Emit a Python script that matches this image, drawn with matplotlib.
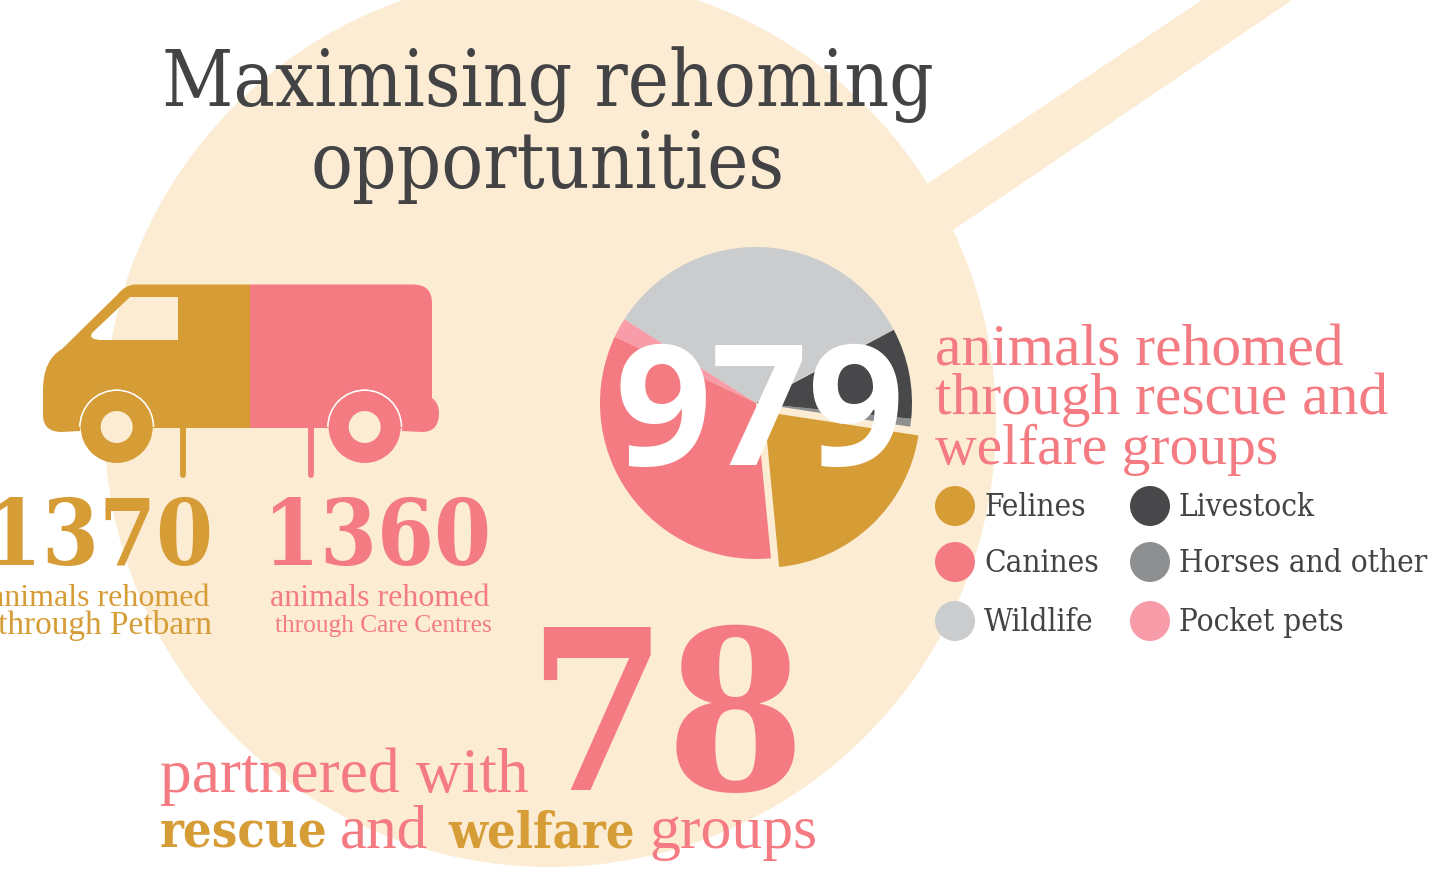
import matplotlib
matplotlib.use("Agg")
from matplotlib import pyplot as plt
from matplotlib.patches import Circle, Polygon, PathPatch, Wedge
from matplotlib.path import Path

# Pie data, counter clockwise from the felines slice
pie_labels = ["Felines", "Horses and other", "Livestock", "Wildlife", "Pocket pets", "Canines"]
pie_values = [206, 8, 92, 325, 20, 328]
total_rehomed = 979
petbarn_count = 1370
centres_count = 1360
partner_count = 78

# Legend reads column by column
legend_left = ["Felines", "Canines", "Wildlife"]
legend_right = ["Livestock", "Horses and other", "Pocket pets"]

CREAM = "#FBECD3"
ORANGE = "#D69C36"
PINK = "#F57B82"
DARK = "#434345"
colours = {"Felines": ORANGE, "Canines": PINK, "Wildlife": "#CBCCCE",
           "Livestock": "#48484A", "Horses and other": "#8E8F91", "Pocket pets": "#F79CA8"}

SLAB = ["DejaVu Serif"]
LIGHT = ["Liberation Serif"]

W, H = 1438, 892
fig = plt.figure(figsize=(W / 100, H / 100), dpi=100, facecolor="white")
ax = fig.add_axes([0, 0, 1, 1])
ax.set_xlim(0, W)
ax.set_ylim(H, 0)
ax.axis("off")

# Magnifying glass
ax.add_patch(Circle((550, 421), 446, fc=CREAM, ec="none"))
ax.add_patch(Polygon([(927, 184), (1205, -2), (1295, -2), (953, 230)], fc=CREAM, ec="none"))

# Van, front half with window hole (window runs the other way round)
M, L, C, Z = Path.MOVETO, Path.LINETO, Path.CURVE3, Path.CLOSEPOLY
front = [((250, 284.5), M), ((135, 284.5), L), ((125, 285), C), ((117, 295), C),
         ((62, 349), L), ((43, 360), C), ((43, 390), C), ((43, 415), L),
         ((43, 432), C), ((62, 432), C), ((80, 431), L), ((80, 428), L), ((250, 428), L), ((250, 284.5), Z),
         ((130, 297), M), ((178, 297), L), ((178, 340), L), ((102, 340), L),
         ((88, 340), C), ((92, 333), C), ((130, 297), Z)]
ax.add_patch(PathPatch(Path([p for p, c in front], [c for p, c in front]), fc=ORANGE, ec="none", zorder=2))
back = [((250, 284.5), M), ((413, 284.5), L), ((432, 284.5), C), ((432, 303), C),
        ((432, 398), L), ((439, 403), C), ((439, 413), C), ((439, 432), C), ((422, 432), C),
        ((402, 431), L), ((402, 428), L), ((250, 428), L), ((250, 284.5), Z)]
ax.add_patch(PathPatch(Path([p for p, c in back], [c for p, c in back]), fc=PINK, ec="none", zorder=2))

# Wheels
for cx, col in [(116.7, ORANGE), (364.7, PINK)]:
    ax.add_patch(Wedge((cx, 427), 37.5, 180, 360, fc=CREAM, ec="none", zorder=3))
    ax.add_patch(Wedge((cx, 427), 37.5, 180, 360, width=1.6, fc="white", ec="none", zorder=3))
    ax.add_patch(Circle((cx, 427), 36, fc=col, ec="none", zorder=4))
    ax.add_patch(Circle((cx, 427), 16, fc=CREAM, ec="none", zorder=5))

# Stems under the van
ax.plot([182.5, 182.5], [428, 475], color=ORANGE, lw=4.2, solid_capstyle="round", zorder=2)
ax.plot([310.5, 310.5], [428, 475], color=PINK, lw=4.2, solid_capstyle="round", zorder=2)

# Title
ax.text(548, 106, "Maximising rehoming", family=SLAB, stretch="condensed", fontsize=55.8, color=DARK, ha="center", va="baseline")
ax.text(548, 188, "opportunities", family=SLAB, stretch="condensed", fontsize=55.8, color=DARK, ha="center", va="baseline")

# Van numbers
ax.text(213, 565, str(petbarn_count), family=SLAB, weight="bold", stretch="condensed", fontsize=65.5, color=ORANGE, ha="right", va="baseline")
ax.text(491, 565, str(centres_count), family=SLAB, weight="bold", stretch="condensed", fontsize=65.5, color=PINK, ha="right", va="baseline")
ax.text(210, 606, "animals rehomed", family=LIGHT, fontsize=23, color=ORANGE, ha="right", va="baseline")
ax.text(212, 634, "through Petbarn", family=LIGHT, fontsize=24, color=ORANGE, ha="right", va="baseline")
ax.text(489, 606, "animals rehomed", family=LIGHT, fontsize=23, color=PINK, ha="right", va="baseline")
ax.text(492, 632, "through Care Centres", family=LIGHT, fontsize=18.3, color=PINK, ha="right", va="baseline")

# Partner count
ax.text(805, 790, str(partner_count), family=SLAB, weight="bold", stretch="condensed", fontsize=160, color=PINK, ha="right", va="baseline")
ax.text(160, 792, "partnered with", family=LIGHT, fontsize=45.7, color=PINK, va="baseline")
ax.text(160, 848, "rescue", family=SLAB, weight="bold", stretch="condensed", fontsize=36.3, color=ORANGE, va="baseline")
ax.text(340, 848, "and", family=LIGHT, fontsize=44, color=PINK, va="baseline")
ax.text(448, 848, "welfare", family=SLAB, weight="bold", stretch="condensed", fontsize=36.3, color=ORANGE, va="baseline")
ax.text(649, 848, "groups", family=LIGHT, fontsize=44.5, color=PINK, va="baseline")

# Pie, explode is in the same units as the radius here
pie_ax = fig.add_axes([(756 - 200) / W, 1 - (403 + 200) / H, 400 / W, 400 / H])
pie_ax.pie(pie_values, colors=[colours[k] for k in pie_labels], startangle=-84.5,
           radius=156, center=(0, 0), explode=[12, 0, 0, 0, 0, 0], frame=True)
pie_ax.set_xlim(-200, 200)
pie_ax.set_ylim(-200, 200)
pie_ax.axis("off")

ax2 = fig.add_axes([0, 0, 1, 1])
ax2.set_xlim(0, W)
ax2.set_ylim(H, 0)
ax2.axis("off")
ax2.patch.set_alpha(0)
ax2.text(760, 465, str(total_rehomed), family=["Open Sans"], weight="bold", fontsize=122, color="white", ha="center", va="baseline")

# Right hand caption
for y, line, size in zip([365, 414, 464], ["animals rehomed", "through rescue and", "welfare groups"], [42.8, 42.8, 41.4]):
    ax2.text(935, y, line, family=LIGHT, fontsize=size, color=PINK, va="baseline")

# Legend
for x, names in [(955, legend_left), (1150, legend_right)]:
    for y, name in zip([506, 562, 621], names):
        ax2.add_patch(Circle((x, y), 20, fc=colours[name], ec="none"))
        ax2.text(x + 29, y + 10, name, family=SLAB, stretch="condensed", fontsize=22.6, color=DARK, va="baseline")

fig.savefig("out.png", dpi=100, facecolor="white")
